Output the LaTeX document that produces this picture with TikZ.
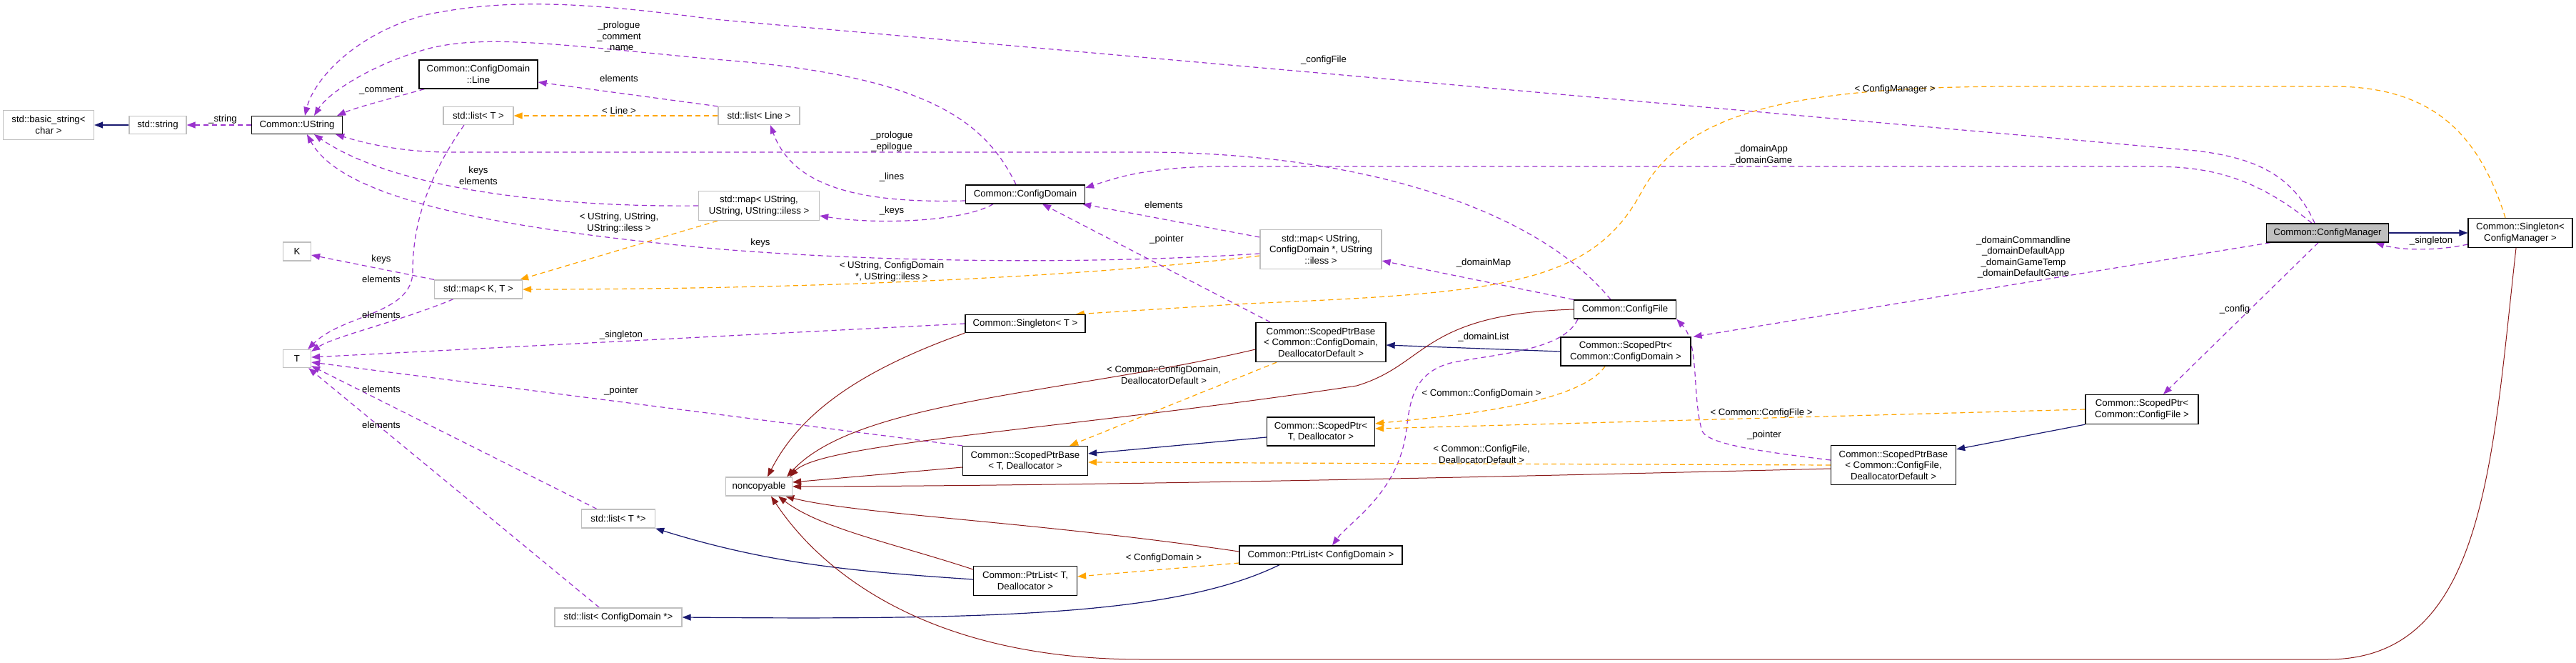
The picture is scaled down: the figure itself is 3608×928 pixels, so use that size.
\documentclass[tikz,border=0pt]{standalone}
\usepackage{fontspec}
\setmainfont{Liberation Sans}
\usetikzlibrary{arrows.meta,backgrounds}
\definecolor{cpurple}{HTML}{9A32CD}
\definecolor{corange}{HTML}{FFA500}
\definecolor{cblue}{HTML}{191970}
\definecolor{cred}{HTML}{8B1A1A}
\definecolor{cgray}{HTML}{BFBFBF}
\begin{document}
\begin{tikzpicture}[x=1pt,y=-1pt,
  every node/.style={font=\fontsize{13.2}{15.5}\selectfont, inner sep=0pt, align=center},
  cls/.style={draw=black, line width=1.3pt, fill=white},
  ext/.style={draw=cgray, line width=1.3pt, fill=white},
  cur/.style={draw=black, line width=1.3pt, fill=cgray},
  tip/.style={-{Triangle[length=12pt,width=9pt]}},
  usee/.style={tip, draw=cpurple, dash pattern=on 7pt off 5pt, line width=1.2pt},
  tmpl/.style={tip, draw=corange, dash pattern=on 7pt off 5pt, line width=1.2pt},
  inh/.style={tip, draw=cblue, line width=1.2pt},
  nci/.style={tip, draw=cred, line width=1pt},
  lbl/.style={fill=none}]
\useasboundingbox (0,0) rectangle (3608,928);
% nodes
\node[ext, minimum width=127pt, minimum height=41pt] (bs) at (68,175) {std::basic\_string\textless\\char \textgreater};
\node[ext, minimum width=80pt, minimum height=25pt] (sstr) at (221,175) {std::string};
\node[cls, minimum width=127pt, minimum height=25pt] (ustr) at (416,175) {Common::UString};
\node[cls, minimum width=166pt, minimum height=40pt] (line) at (670,104) {Common::ConfigDomain\\::Line};
\node[ext, minimum width=98pt, minimum height=25pt] (listT) at (670,162) {std::list\textless{} T \textgreater};
\node[ext, minimum width=39pt, minimum height=26pt] (K) at (416,352) {K};
\node[ext, minimum width=123pt, minimum height=26pt] (mapKT) at (670,405) {std::map\textless{} K, T \textgreater};
\node[ext, minimum width=169pt, minimum height=41pt] (mapUU) at (1063,288) {std::map\textless{} UString,\\UString, UString::iless \textgreater};
\node[ext, minimum width=39pt, minimum height=25pt] (T) at (416,502) {T};
\node[ext, minimum width=103pt, minimum height=26pt] (listTp) at (866,726) {std::list\textless{} T *\textgreater};
\node[ext, minimum width=178pt, minimum height=26pt] (listCDp) at (866,864) {std::list\textless{} ConfigDomain *\textgreater};
\node[ext, minimum width=114pt, minimum height=25pt] (listLine) at (1063,162) {std::list\textless{} Line \textgreater};
\node[cls, minimum width=167pt, minimum height=26pt] (cd) at (1436,272) {Common::ConfigDomain};
\node[ext, minimum width=170pt, minimum height=55pt] (mapUCD) at (1850,349) {std::map\textless{} UString,\\ConfigDomain *, UString\\::iless \textgreater};
\node[cls, minimum width=168pt, minimum height=25pt] (sgT) at (1436,453) {Common::Singleton\textless{} T \textgreater};
\node[cls, minimum width=143pt, minimum height=26pt] (cf) at (2276,433) {Common::ConfigFile};
\node[cls, minimum width=182pt, minimum height=55pt] (spbCD) at (1850,479) {Common::ScopedPtrBase\\\textless{} Common::ConfigDomain,\\DeallocatorDefault \textgreater};
\node[cls, minimum width=182pt, minimum height=40pt] (spCD) at (2277,492) {Common::ScopedPtr\textless\\Common::ConfigDomain \textgreater};
\node[cls, minimum width=151pt, minimum height=40pt] (spTD) at (1850,604) {Common::ScopedPtr\textless\\T, Deallocator \textgreater};
\node[cls, minimum width=175pt, minimum height=41pt] (spbTD) at (1436,645) {Common::ScopedPtrBase\\\textless{} T, Deallocator \textgreater};
\node[ext, minimum width=93pt, minimum height=26pt] (nc) at (1063,681) {noncopyable};
\node[cls, minimum width=228pt, minimum height=26pt] (plCD) at (1850,777) {Common::PtrList\textless{} ConfigDomain \textgreater};
\node[cls, minimum width=145pt, minimum height=41pt] (plTD) at (1436,813) {Common::PtrList\textless{} T,\\Deallocator \textgreater};
\node[cur, minimum width=171pt, minimum height=26pt] (cm) at (3260,326) {Common::ConfigManager};
\node[cls, minimum width=146pt, minimum height=41pt] (sgCM) at (3530,326) {Common::Singleton\textless\\ConfigManager \textgreater};
\node[cls, minimum width=158pt, minimum height=41pt] (spCF) at (3000,573) {Common::ScopedPtr\textless\\Common::ConfigFile \textgreater};
\node[cls, minimum width=175pt, minimum height=55pt] (spbCF) at (2652,651) {Common::ScopedPtrBase\\\textless{} Common::ConfigFile,\\DeallocatorDefault \textgreater};
% edges
\begin{scope}[on background layer]
\draw[inh] (sstr.west) -- (bs.east);
\draw[usee] (ustr.west) -- (sstr.east);
\draw[usee] ([xshift=8pt]line.south west) .. controls (540,140) and (500,150) .. ([xshift=-8pt]ustr.north east);
\draw[usee] ([xshift=-13pt]cd.north) .. controls (1380,170) and (1300,105) .. (1000,83) .. controls (780,62) and (680,48) .. (600,68) .. controls (520,90) and (460,130) .. ([xshift=24pt]ustr.north);
\draw[usee] ([xshift=-18pt]cm.north) .. controls (3210,240) and (3150,220) .. (3076,211) -- (1000,27) .. controls (800,0) and (700,0) .. (600,20) .. controls (500,45) and (440,110) .. ([xshift=11pt]ustr.north);
\draw[usee] ([xshift=-20pt]cf.north) .. controls (2150,290) and (1900,213) .. (1600,213) -- (630,213) .. controls (560,213) and (510,200) .. ([xshift=-10pt]ustr.south east);
\draw[usee] (mapUU.west) .. controls (800,290) and (560,270) .. ([xshift=24pt]ustr.south);
\draw[usee] ([yshift=-6pt]mapUCD.west) .. controls (1500,372) and (1200,365) .. (1000,348) .. controls (700,320) and (480,280) .. ([xshift=14pt]ustr.south);
\draw[usee] (listLine.north west) -- ([yshift=-11pt]line.east);
\draw[tmpl] (listLine.west) -- (listT.east);
\draw[usee] ([yshift=-9pt]cd.west) .. controls (1200,285) and (1110,260) .. ([xshift=16pt]listLine.south);
\draw[usee] ([xshift=-45pt]cd.south) .. controls (1350,310) and (1230,315) .. ([yshift=-14pt]mapUU.east);
\draw[tmpl] ([xshift=27pt]mapUU.south west) -- ([xshift=-4pt]mapKT.north east);
\draw[tmpl] ([yshift=-9pt]mapUCD.west) .. controls (1500,390) and (1100,405) .. (mapKT.east);
\draw[usee] (mapKT.north west) -- ([yshift=-5pt]K.east);
\draw[usee] ([xshift=-35pt]mapKT.south) .. controls (560,450) and (470,470) .. ([yshift=-3pt]T.north east);
\draw[usee] ([xshift=-20pt]listT.south) .. controls (590,260) and (578,330) .. (578,380) .. controls (578,440) and (480,440) .. ([xshift=-5pt]T.north east);
\draw[usee] ([xshift=22pt]listTp.north west) -- ([yshift=3pt]T.south east);
\draw[usee] ([xshift=63pt]listCDp.north west) -- ([xshift=-4pt]T.south east);
\draw[usee] (sgT.west) -- ([yshift=2pt]T.east);
\draw[usee] (spbTD.north west) -- ([yshift=-5pt]T.east);
\draw[usee] ([yshift=17pt]mapUCD.west) -- ([xshift=-4pt]cd.south east);
\draw[usee] ([xshift=-71pt]spbCD.north) -- ([xshift=24pt]cd.south);
\draw[usee] (cf.north west) -- ([yshift=-16pt]mapUCD.east);
\draw[usee] ([xshift=-22pt]cm.north) .. controls (3150,240) and (3080,233) .. (3009,233) -- (1700,233) .. controls (1600,235) and (1560,250) .. ([yshift=9pt]cd.east);
\draw[tmpl] ([xshift=-21pt]sgCM.north) .. controls (3470,180) and (3400,121) .. (3267,121) -- (2825,121) .. controls (2500,121) and (2360,160) .. (2300,267) .. controls (2230,400) and (2100,410) .. (1746,425) -- ([xshift=-14pt]sgT.north east);
\draw[inh] (cm.east) -- (sgCM.west);
\draw[usee] ([yshift=-16pt]sgCM.west) .. controls (3410,352) and (3360,350) .. ([xshift=-19pt]cm.south east);
\draw[usee] ([xshift=6pt]cm.south west) -- ([xshift=3pt]spCD.north east);
\draw[usee] ([xshift=-13pt]cm.south) -- ([xshift=30pt]spCF.north);
\draw[usee] ([xshift=-66pt]cf.south) .. controls (2190,490) and (2100,495) .. (2036,507) .. controls (1980,520) and (1975,560) .. (1970,600) .. controls (1960,690) and (1890,730) .. ([xshift=16pt]plCD.north);
\draw[inh] (spCD.west) -- ([yshift=-4pt]spbCD.east);
\draw[tmpl] ([xshift=-29pt]spCD.south) .. controls (2210,570) and (2000,585) .. ([yshift=11pt]spTD.east);
\draw[tmpl] (spCF.west) -- ([yshift=4pt]spTD.east);
\draw[tmpl] ([xshift=-62pt]spbCD.south) -- ([xshift=-26pt]spbTD.north east);
\draw[tmpl] (spbCF.west) -- ([yshift=-2pt]spbTD.east);
\draw[inh] ([yshift=-8pt]spTD.west) -- ([yshift=10pt]spbTD.east);
\draw[inh] (spCF.south west) -- ([yshift=-6pt]spbCF.north east);
\draw[usee] ([yshift=7pt]spbCF.west) .. controls (2450,630) and (2385,620) .. (2383,600) .. controls (2370,550) and (2380,480) .. (cf.south east);
\draw[tmpl] ([yshift=-11pt]plCD.west) -- ([yshift=6pt]plTD.east);
\draw[inh] ([xshift=-58pt]plCD.south) .. controls (1650,860) and (1400,868) .. (listCDp.east);
\draw[inh] ([yshift=2pt]plTD.west) .. controls (1200,800) and (1080,790) .. (listTp.south east);
\draw[nci] (sgT.south west) .. controls (1200,520) and (1120,580) .. ([xshift=12pt]nc.north);
\draw[nci] ([yshift=-10pt]spbCD.west) .. controls (1500,550) and (1200,560) .. ([xshift=-8pt]nc.north east);
\draw[nci] (cf.west) .. controls (1990,440) and (2000,510) .. (1900,540) .. controls (1500,600) and (1150,620) .. ([xshift=-4pt]nc.north east);
\draw[nci] ([yshift=-9pt]spbTD.west) -- ([yshift=6pt]nc.east);
\draw[nci] ([yshift=-5pt]spbCF.west) .. controls (2000,670) and (1500,680) .. (nc.east);
\draw[nci] ([yshift=5pt]plCD.west) .. controls (1450,730) and (1200,720) .. ([xshift=-10pt]nc.south east);
\draw[nci] ([yshift=16pt]plTD.west) .. controls (1250,760) and (1150,740) .. ([xshift=27pt]nc.south);
\draw[nci] ([xshift=-6pt]sgCM.south) .. controls (3490,650) and (3480,923) .. (3260,923) -- (1600,923) .. controls (1300,923) and (1150,800) .. ([xshift=17pt]nc.south);
\end{scope}
% labels
\node[lbl] (l1) at (312,167) {\_string};
\node[lbl] (l2) at (534,127) {\_comment};
\node[lbl] (l3) at (867,52) {\_prologue\\\_comment\\\_name};
\node[lbl] (l4) at (1854,84) {\_configFile};
\node[lbl] (l5) at (1249,198) {\_prologue\\\_epilogue};
\node[lbl] (l6) at (670,246) {keys\\elements};
\node[lbl] (l7) at (1065,340) {keys};
\node[lbl] (l8) at (867,110) {elements};
\node[lbl] (l9) at (867,155) {\textless{} Line \textgreater};
\node[lbl] (l10) at (1249,248) {\_lines};
\node[lbl] (l11) at (1249,295) {\_keys};
\node[lbl] (l12) at (867,312) {\textless{} UString, UString,\\UString::iless \textgreater};
\node[lbl] (l13) at (1249,380) {\textless{} UString, ConfigDomain\\*, UString::iless \textgreater};
\node[lbl] (l14) at (534,363) {keys};
\node[lbl] (l15) at (534,391) {elements};
\node[lbl] (l16) at (534,441) {elements};
\node[lbl] (l17) at (534,545) {elements};
\node[lbl] (l18) at (534,595) {elements};
\node[lbl] (l19) at (870,469) {\_singleton};
\node[lbl] (l20) at (870,547) {\_pointer};
\node[lbl] (l21) at (1630,287) {elements};
\node[lbl] (l22) at (1634,335) {\_pointer};
\node[lbl] (l23) at (2078,368) {\_domainMap};
\node[lbl] (l24) at (2467,217) {\_domainApp\\\_domainGame};
\node[lbl] (l25) at (2654,125) {\textless{} ConfigManager \textgreater};
\node[lbl] (l26) at (3405,337) {\_singleton};
\node[lbl] (l27) at (2834,360) {\_domainCommandline\\\_domainDefaultApp\\\_domainGameTemp\\\_domainDefaultGame};
\node[lbl] (l28) at (3130,433) {\_config};
\node[lbl] (l29) at (2078,472) {\_domainList};
\node[lbl] (l30) at (2075,551) {\textless{} Common::ConfigDomain \textgreater};
\node[lbl] (l31) at (2467,578) {\textless{} Common::ConfigFile \textgreater};
\node[lbl] (l32) at (1630,525) {\textless{} Common::ConfigDomain,\\DeallocatorDefault \textgreater};
\node[lbl] (l33) at (2075,636) {\textless{} Common::ConfigFile,\\DeallocatorDefault \textgreater};
\node[lbl] (l34) at (2471,609) {\_pointer};
\node[lbl] (l35) at (1630,781) {\textless{} ConfigDomain \textgreater};
\end{tikzpicture}
\end{document}
